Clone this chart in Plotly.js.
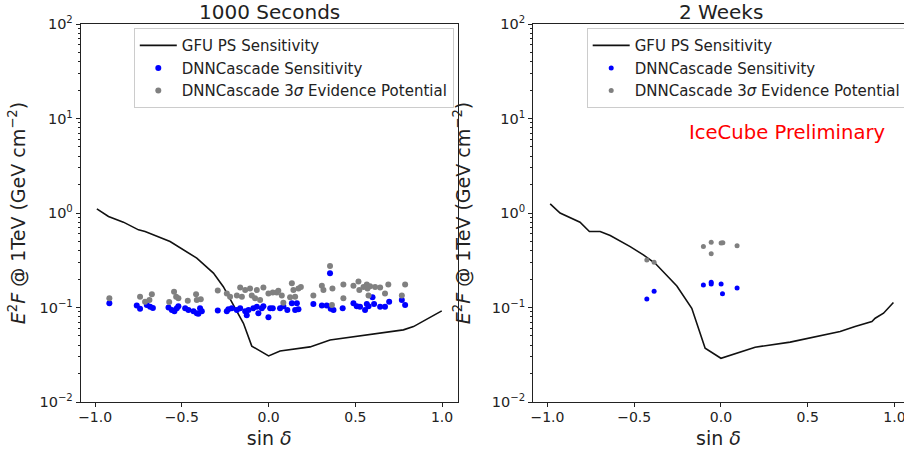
<!DOCTYPE html>
<html>
<head>
<meta charset="utf-8">
<script src="https://cdn.plot.ly/plotly-3.0.1.min.js"></script>
<style>html,body{margin:0;padding:0;background:#fff;overflow:hidden}</style>
</head>
<body>
<div id="chart" style="width:904px;height:450px"></div>
<script>
// ---- 1000 Seconds panel ----
const gfu1000_sindec = [-0.990,-0.923,-0.837,-0.750,-0.712,-0.568,-0.414,-0.318,-0.261,-0.203,-0.145,-0.097,0.0,0.066,0.239,0.354,0.777,0.835,0.998];
const gfu1000_flux   = [1.107,0.918,0.80,0.663,0.637,0.499,0.333,0.231,0.166,0.106,0.068,0.039,0.0307,0.0347,0.0383,0.0454,0.058,0.0628,0.092];

const sens1000_sindec = [-0.918,-0.760,-0.741,-0.702,-0.683,-0.667,-0.577,-0.558,-0.543,-0.529,-0.520,-0.481,-0.462,-0.433,-0.414,-0.395,-0.385,-0.405,-0.293,-0.241,-0.232,-0.212,-0.183,-0.164,-0.135,-0.126,-0.116,-0.088,-0.068,-0.059,-0.039,-0.030,-0.001,0.009,0.024,0.066,0.085,0.108,0.134,0.153,0.172,0.163,0.258,0.307,0.335,0.354,0.358,0.374,0.427,0.489,0.508,0.527,0.556,0.576,0.599,0.566,0.608,0.643,0.671,0.695,0.768,0.787];
const sens1000_flux   = [0.111,0.105,0.097,0.106,0.102,0.099,0.100,0.094,0.091,0.098,0.103,0.098,0.094,0.091,0.087,0.098,0.091,0.086,0.093,0.091,0.096,0.098,0.094,0.098,0.091,0.083,0.094,0.098,0.102,0.087,0.098,0.103,0.079,0.098,0.098,0.098,0.103,0.094,0.111,0.094,0.096,0.111,0.109,0.105,0.105,0.231,0.097,0.094,0.098,0.111,0.103,0.102,0.094,0.103,0.128,0.109,0.109,0.102,0.102,0.115,0.120,0.106];

const evid1000_sindec = [-0.918,-0.741,-0.712,-0.673,-0.687,-0.545,-0.533,-0.573,-0.520,-0.466,-0.418,-0.414,-0.391,-0.293,-0.241,-0.222,-0.164,-0.154,-0.183,-0.135,-0.107,-0.097,-0.078,-0.068,-0.030,-0.049,-0.001,0.024,0.056,0.076,0.085,0.124,0.047,0.134,0.143,0.153,0.172,0.186,0.258,0.307,0.316,0.354,0.368,0.431,0.431,0.489,0.518,0.523,0.547,0.566,0.570,0.576,0.585,0.614,0.643,0.671,0.690,0.768,0.787,0.365];
const evid1000_flux   = [0.125,0.130,0.115,0.138,0.120,0.147,0.130,0.114,0.125,0.118,0.138,0.120,0.122,0.151,0.141,0.130,0.163,0.130,0.134,0.153,0.159,0.134,0.125,0.153,0.163,0.120,0.141,0.144,0.150,0.134,0.112,0.128,0.144,0.181,0.153,0.130,0.159,0.165,0.134,0.170,0.153,0.275,0.159,0.175,0.125,0.170,0.188,0.153,0.165,0.175,0.159,0.134,0.168,0.165,0.163,0.141,0.175,0.134,0.175,0.106];

// ---- 2 Weeks panel ----
const gfu2w_sindec = [-0.984,-0.927,-0.812,-0.758,-0.696,-0.638,-0.523,-0.447,-0.379,-0.331,-0.254,-0.168,-0.091,0.0,0.111,0.197,0.399,0.572,0.687,0.773,0.870,0.889,0.937,0.994];
const gfu2w_flux   = [1.25,1.0,0.80,0.637,0.637,0.577,0.441,0.361,0.294,0.24,0.169,0.098,0.037,0.029,0.034,0.038,0.043,0.050,0.0556,0.0628,0.071,0.077,0.087,0.113];

const sens2w_sindec = [-0.427,-0.385,-0.101,-0.056,-0.056,0.001,0.009,0.093];
const sens2w_flux   = [0.123,0.149,0.173,0.185,0.177,0.177,0.140,0.161];

const evid2w_sindec = [-0.427,-0.385,-0.101,-0.056,-0.056,0.001,0.011,0.093];
const evid2w_flux   = [0.319,0.302,0.442,0.491,0.370,0.480,0.485,0.449];

const legendNames = ['GFU PS Sensitivity','DNNCascade Sensitivity','DNNCascade 3<i>σ</i> Evidence Potential'];
const panelTitles = ['1000 Seconds','2 Weeks'];
const xTickVals = [-1.0,-0.5,0.0,0.5,1.0];
const xTickText = ['−1.0','−0.5','0.0','0.5','1.0'];
const yTickVals = [0.01,0.1,1,10,100];
const yTickText = ['10<sup>−2</sup>','10<sup>−1</sup>','10<sup>0</sup>','10<sup>1</sup>','10<sup>2</sup>'];
const xLabel = 'sin <i>δ</i>';
const yLabel = '<i>E</i><sup>2</sup><i>F</i> @ 1TeV (GeV cm<sup>−2</sup>)';
const prelimText = 'IceCube Preliminary';

const minorVals = [];
for (let e = -2; e < 2; e++) for (let m = 2; m <= 9; m++) minorVals.push(m * Math.pow(10, e));

const FONT = 'DejaVu Sans, sans-serif';

const traces = [
  {x: gfu1000_sindec, y: gfu1000_flux, mode:'lines', name: legendNames[0], line:{color:'#111', width:1.6}, xaxis:'x', yaxis:'y', legend:'legend'},
  {x: sens1000_sindec, y: sens1000_flux, mode:'markers', name: legendNames[1], marker:{color:'#0000ff', size:6}, xaxis:'x', yaxis:'y', legend:'legend'},
  {x: evid1000_sindec, y: evid1000_flux, mode:'markers', name: legendNames[2], marker:{color:'#808080', size:6}, xaxis:'x', yaxis:'y', legend:'legend'},
  {x: gfu2w_sindec, y: gfu2w_flux, mode:'lines', name: legendNames[0], line:{color:'#111', width:1.6}, xaxis:'x2', yaxis:'y2', legend:'legend2'},
  {x: sens2w_sindec, y: sens2w_flux, mode:'markers', name: legendNames[1], marker:{color:'#0000ff', size:5}, xaxis:'x2', yaxis:'y2', legend:'legend2'},
  {x: evid2w_sindec, y: evid2w_flux, mode:'markers', name: legendNames[2], marker:{color:'#808080', size:5}, xaxis:'x2', yaxis:'y2', legend:'legend2'}
];

function xax(domain, range, mirror) {
  return {domain, range, showline:true, linecolor:'#222', linewidth:1, mirror, ticks:'outside', ticklen:4, tickcolor:'#222',
    tickmode:'array', tickvals:xTickVals, ticktext:xTickText, showgrid:false, zeroline:false,
    ticklabeloverflow:'allow', ticklabelstandoff:-2,
    tickfont:{size:14, color:'#222', family:FONT},
    title:{text:xLabel, font:{size:19, color:'#222', family:FONT}, standoff:7}, automargin:false};
}
function yax(anchor, mirror, standoff) {
  return {type:'log', range:[-2,2], anchor, showline:true, linecolor:'#222', linewidth:1, mirror, ticks:'outside', ticklen:4, tickcolor:'#222',
    tickmode:'array', tickvals:yTickVals, ticktext:yTickText, showgrid:false, zeroline:false,
    minor:{tickmode:'array', tickvals:minorVals, ticks:'outside', ticklen:2, tickcolor:'#222', showgrid:false},
    tickfont:{size:14.5, color:'#222', family:FONT},
    title:{text:yLabel, font:{size:19, color:'#222', family:FONT}, standoff}, automargin:false};
}

const legendBase = {bgcolor:'rgba(255,255,255,0.9)', bordercolor:'#cccccc', borderwidth:1,
  font:{size:15, color:'#222', family:FONT}, xanchor:'left', yanchor:'top', y:0.989, tracegroupgap:0, itemwidth:37};

const layout = {
  width:904, height:450,
  margin:{l:0, r:0, t:24, b:48, autoexpand:false},
  paper_bgcolor:'#fff', plot_bgcolor:'#fff',
  font:{family:FONT, color:'#222'},
  xaxis: xax([0.0893,0.5063], [-1.083,1.090], true),
  yaxis: yax('x', true, 8),
  xaxis2: xax([0.5896,1.0], [-1.083,1.055], true),
  yaxis2: yax('x2', false, 16),
  legend: Object.assign({}, legendBase, {x:0.148}),
  legend2: Object.assign({}, legendBase, {x:0.649}),
  annotations:[
    {text:panelTitles[0], xref:'paper', yref:'paper', x:0.2978, y:1.032, xanchor:'center', yanchor:'middle', showarrow:false, font:{size:20, color:'#222', family:FONT}},
    {text:panelTitles[1], xref:'paper', yref:'paper', x:0.798, y:1.032, xanchor:'center', yanchor:'middle', showarrow:false, font:{size:20, color:'#222', family:FONT}},
    {text:prelimText, xref:'paper', yref:'paper', x:0.8706, y:(402-132)/378, xanchor:'center', yanchor:'middle', showarrow:false, font:{size:19.6, color:'#ff0000', family:FONT}}
  ]
};

Plotly.newPlot('chart', traces, layout, {displayModeBar:false, staticPlot:true});
</script>
</body>
</html>
